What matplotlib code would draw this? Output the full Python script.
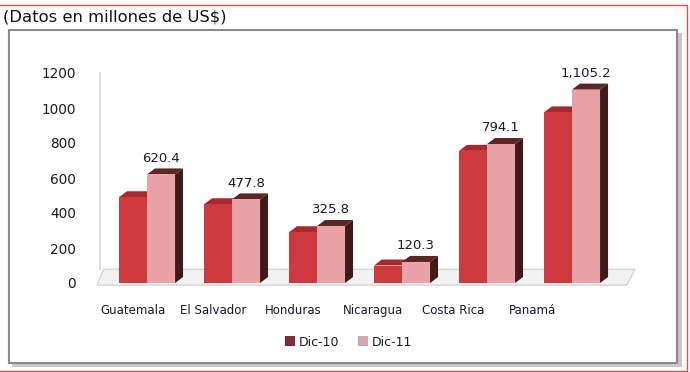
import matplotlib.pyplot as plt
import numpy as np
from matplotlib.patches import Polygon, Rectangle, Patch

countries = ["Guatemala", "El Salvador", "Honduras", "Nicaragua", "Costa Rica", "Panamá"]
dic10 = [490.0, 450.0, 290.0, 100.0, 755.0, 975.0]
dic11 = [620.4, 477.8, 325.8, 120.3, 794.1, 1105.2]
dic11_labels = ["620.4", "477.8", "325.8", "120.3", "794.1", "1,105.2"]
yticks = [0, 200, 400, 600, 800, 1000, 1200]

W, H = 690, 372
fig = plt.figure(figsize=(W / 100, H / 100), dpi=100)
fig.patch.set_facecolor("white")

# outer red frame and chart box (figure pixel coords)
bg = fig.add_axes([0, 0, 1, 1])
bg.set_xlim(0, W)
bg.set_ylim(H, 0)
bg.axis("off")
bg.add_patch(Rectangle((-2, 5), W - 1, H - 6, fill=False, ec="#e05050", lw=1.0))
bg.add_patch(Rectangle((12, 33), 670, 334, fc="#c8c8c8", ec="none"))
bg.add_patch(Rectangle((9, 30), 668, 333, fc="white", ec="#8a8a8a", lw=1.5))
bg.text(3, 17, "(Datos en millones de US$)", fontsize=11.8, va="center", ha="left",
        color="#111111")

# plot area
px_left, px_right, px_top, px_bot = 97, 635, 73, 283
ax = fig.add_axes([px_left / W, 1 - px_bot / H, (px_right - px_left) / W, (px_bot - px_top) / H])
ax.set_facecolor("none")
step = 85.0
x0 = -(147 - px_left) / step
x1 = (px_right - 147) / step
ax.set_xlim(x0, x1)
ax.set_ylim(0, 1200)
for s in ax.spines.values():
    s.set_visible(False)

# floor and back wall edge
ax.add_patch(Polygon([(0, -0.01), (0.985, -0.01), (1.0, 0.065), (0.012, 0.065)],
                     closed=True, transform=ax.transAxes, fc="#f2f2f2", ec="#d4d4d4",
                     lw=1.0, zorder=0, clip_on=False))
ax.plot([0.005, 0.005], [0.06, 1.0], transform=ax.transAxes, color="#d8d8d8", lw=1.2,
        clip_on=False, zorder=0)

x = np.arange(len(countries))
bw = 0.33
dx = 8 / step                 # depth in x (8 px)
dy = 6 * 1200 / (px_bot - px_top)  # depth in y (6 px)


def bar3d(xc, h, front, top, side, z):
    xl, xr = xc - bw / 2, xc + bw / 2
    ax.add_patch(Polygon([(xr, 0), (xr + dx, dy), (xr + dx, h + dy), (xr, h)],
                         closed=True, fc=side, ec="none", zorder=z))
    ax.add_patch(Polygon([(xl, h), (xl + dx, h + dy), (xr + dx, h + dy), (xr, h)],
                         closed=True, fc=top, ec="none", zorder=z))
    ax.add_patch(Rectangle((xl, 0), bw, h, fc=front, ec="none", zorder=z + 0.5))


for i in range(len(countries)):
    bar3d(x[i] - bw / 2, dic10[i], "#cc3a40", "#a82a30", "#7a1e22", 2)
    bar3d(x[i] + bw / 2, dic11[i], "#e9a2a8", "#5a2626", "#3e1a1a", 3)
    ax.text(x[i] + bw / 2, dic11[i] + dy + 22, dic11_labels[i], ha="center",
            va="bottom", fontsize=9.5, color="#1a1a2a", zorder=5)

ax.set_yticks(yticks)
ax.set_yticklabels([str(v) for v in yticks], fontsize=9.8, color="#1a1a2a")
ax.tick_params(axis="y", length=0, pad=15)
ax.set_xticks(x * 0.94 - 0.16)
ax.set_xticklabels(countries, fontsize=8.5, color="#1a1a2a")
ax.tick_params(axis="x", length=0, pad=15)

handles = [Patch(fc="#7e2a3a", ec="none", label="Dic-10"),
           Patch(fc="#cfa8b0", ec="none", label="Dic-11")]
fig.legend(handles=handles, loc="center", bbox_to_anchor=(349 / W, 1 - 342 / H), ncol=2,
           frameon=False, fontsize=9, handlelength=0.8, handleheight=0.8,
           handletextpad=0.3, columnspacing=1.5, labelcolor="#1a1a2a")

fig.savefig("out.png", dpi=100, facecolor="white")
